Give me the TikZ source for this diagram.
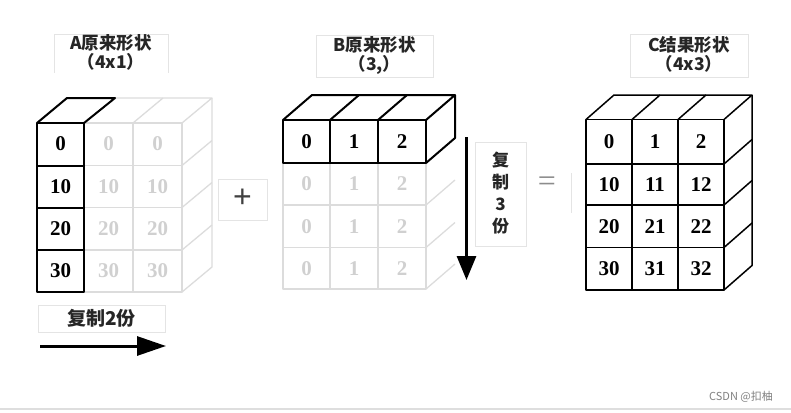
\documentclass[tikz,border=0pt]{standalone}
\usepackage{fontspec}
\setmainfont{Liberation Serif}
\newfontfamily\cjk{Noto Sans CJK SC}
\newfontfamily\symsans{Liberation Sans}
\usetikzlibrary{arrows.meta}
\definecolor{lightln}{HTML}{DCDCDC}
\definecolor{lighttx}{HTML}{D0D0D0}
\definecolor{boxln}{HTML}{E4E4E4}
\begin{document}
\begin{tikzpicture}[x=1pt,y=-1pt,
  num/.style={font=\fontsize{21}{21}\selectfont\bfseries, inner sep=0pt},
  numfaint/.style={num, text=lighttx},
  dark/.style={draw=black, line width=2pt, line join=round},
  thinblack/.style={draw=black, line width=1.5pt, line join=round},
  faint/.style={draw=lightln, line width=1.3pt, line join=round},
  lbl/.style={font=\cjk\bfseries\fontsize{17.5}{19}\selectfont, align=center, text=black!85, inner sep=0pt},
  lblbox/.style={draw=boxln, line width=1pt},
  bigarrow/.style={draw=black, line width=3pt}]
\useasboundingbox (0,0) rectangle (791,412);

% ---------------- A ----------------
% faint copies
\draw[faint] (84,123) rectangle (182,292);
\draw[faint] (133,123) -- (133,292);
\foreach \yy in {165.5,207.5,250} \draw[faint] (84,\yy) -- (182,\yy);
\draw[faint] (115,98) -- (212,98) -- (182,123);
\draw[faint] (163,98) -- (133,123);
\draw[faint] (212,98) -- (212,267) -- (182,292);
\draw[faint] (182,165.5) -- (212,140.5);
\draw[faint] (182,207.5) -- (212,182.5);
\draw[faint] (182,250) -- (212,225);
% bold column
\draw[dark] (37,123) rectangle (84,292);
\foreach \yy in {165.5,207.5,250} \draw[dark] (37,\yy) -- (84,\yy);
\draw[dark] (37,123) -- (67,98) -- (115,98) -- (84,123);
% numbers
\node[num] (a00) at (60.5,144) {0};
\node[num] (a10) at (60.5,186.5) {10};
\node[num] (a20) at (60.5,228.75) {20};
\node[num] (a30) at (60.5,271) {30};
\node[numfaint] (a01) at (108.5,144) {0};
\node[numfaint] (a11) at (108.5,186.5) {10};
\node[numfaint] (a21) at (108.5,228.75) {20};
\node[numfaint] (a31) at (108.5,271) {30};
\node[numfaint] (a02) at (157.5,144) {0};
\node[numfaint] (a12) at (157.5,186.5) {10};
\node[numfaint] (a22) at (157.5,228.75) {20};
\node[numfaint] (a32) at (157.5,271) {30};
% label
\draw[lblbox] (54,73) -- (54,35) -- (168,35) -- (168,73);
\node[lbl] (alab) at (111,52) {A原来形状\\（4x1）};
% copy 2
\draw[lblbox] (38,305) rectangle (165,332);
\node[lbl, font=\cjk\bfseries\fontsize{19}{19}\selectfont] (acopy) at (101.5,318.5) {复制2份};
\coordinate (h1) at (40,346);
\coordinate (h2) at (166,346);
\draw[bigarrow, -{Triangle[width=19pt,length=29pt]}] (h1) -- (h2);

% plus
\draw[lblbox] (218,179) rectangle (267,220);
\node[font=\symsans\fontsize{32}{32}\selectfont, text=black!75, inner sep=0pt] (plus) at (242.5,198) {+};

% ---------------- B ----------------
\draw[faint] (283,163) rectangle (426,289);
\foreach \xx in {330,378} \draw[faint] (\xx,163) -- (\xx,289);
\foreach \yy in {205,247.5} \draw[faint] (283,\yy) -- (426,\yy);
\draw[faint] (426,205) -- (455,180);
\draw[faint] (426,247.5) -- (455,222.5);
\draw[faint] (426,289) -- (455,264);
\draw[dark] (283,120) rectangle (426,163);
\foreach \xx in {330,378} \draw[dark] (\xx,120) -- (\xx,163);
\draw[dark] (283,120) -- (312,95) -- (455,95) -- (426,120);
\draw[dark] (330,120) -- (359,95);
\draw[dark] (378,120) -- (407,95);
\draw[dark] (455,95) -- (455,138) -- (426,163);
\node[num] (b00) at (306.5,141.5) {0};
\node[num] (b01) at (354,141.5) {1};
\node[num] (b02) at (402,141.5) {2};
\foreach \yy/\r in {184/1,226.25/2,268.25/3}{
  \node[numfaint] (b\r0) at (306.5,\yy) {0};
  \node[numfaint] (b\r1) at (354,\yy) {1};
  \node[numfaint] (b\r2) at (402,\yy) {2};
}
\draw[lblbox] (316,36) rectangle (433,77);
\node[lbl] (blab) at (374.5,55.5) {B原来形状\\（3,）};
% copy 3
\coordinate (v1) at (466.5,137);
\coordinate (v2) at (466.5,280);
\draw[bigarrow, -{Triangle[width=19pt,length=24pt]}] (v1) -- (v2);
\draw[lblbox] (475,142) rectangle (526,246);
\node[lbl, font=\cjk\bfseries\fontsize{17}{22}\selectfont] (bcopy) at (500.5,193) {复\\制\\3\\份};

% equals
\node[font=\fontsize{32}{32}\selectfont, text=black!45, inner sep=0pt] (eq) at (547,184) {=};
\draw[lblbox] (571,173) -- (571,213);

% ---------------- C ----------------
\draw[thinblack] (586,119.5) rectangle (724,290);
\foreach \xx in {632,678} \draw[thinblack] (\xx,119.5) -- (\xx,290);
\foreach \yy in {164,205,247.5} \draw[thinblack] (586,\yy) -- (724,\yy);
\draw[thinblack] (586,119.5) -- (614,95) -- (752,95) -- (724,119.5);
\draw[thinblack] (632,119.5) -- (660,95);
\draw[thinblack] (678,119.5) -- (706,95);
\draw[thinblack] (752,95) -- (752,265.5) -- (724,290);
\draw[thinblack] (724,164) -- (752,139.5);
\draw[thinblack] (724,205) -- (752,180.5);
\draw[thinblack] (724,247.5) -- (752,223);
\foreach \yy/\r/\a/\b/\c in {141.75/0/0/1/2, 184.5/1/10/11/12, 226.25/2/20/21/22, 268.75/3/30/31/32}{
  \node[num] (c\r0) at (609,\yy) {\a};
  \node[num] (c\r1) at (655,\yy) {\b};
  \node[num] (c\r2) at (701,\yy) {\c};
}
\draw[lblbox] (630,35) rectangle (748,77);
\node[lbl] (clab) at (689,54.5) {C结果形状\\（4x3）};

% watermark and bottom rule
\node[font=\cjk\fontsize{11}{11}\selectfont, text=black!50, inner sep=0pt] (wm) at (741,397) {CSDN @扣柚};
\draw[draw=black!13, line width=1.5pt] (0,409) -- (791,409);
\end{tikzpicture}
\end{document}
